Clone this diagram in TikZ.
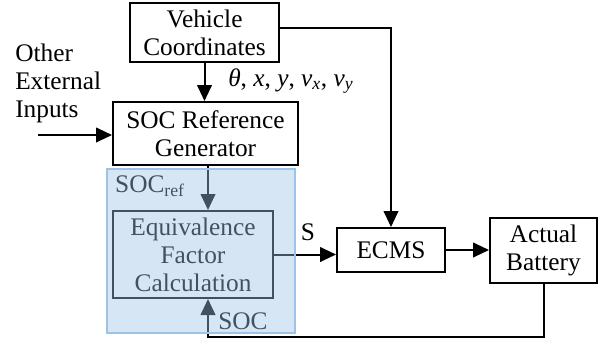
\documentclass[tikz,border=0pt]{standalone}
\usepackage{fontspec}
\setmainfont{Liberation Serif}
\usetikzlibrary{arrows.meta}
\definecolor{regionblue}{RGB}{157,195,230}
\tikzset{
  block/.style={draw=black, line width=1.5pt, fill=white, align=center, inner sep=0pt},
  flow/.style={line width=1.5pt, -{Triangle[length=12pt,width=11pt]}},
  lbl/.style={inner sep=0pt, align=left}
}

\begin{document}
\begin{tikzpicture}[x=0.75pt,y=-0.75pt, font=\fontsize{19}{21}\selectfont]
			%%%%% START %%%%%
			\useasboundingbox (0,0) rectangle (600,339);
			
			% blocks
			\node[block, minimum width=111.75pt, minimum height=44.25pt] (veh) at (204.5,32.5) {Vehicle\\Coordinates};
			\node[block, minimum width=138.75pt, minimum height=47.25pt] (socgen) at (205.5,133.5) {SOC Reference\\Generator};
			\node[block, minimum width=120pt, minimum height=65.25pt] (eqf) at (193,254.5) {Equivalence\\Factor\\Calculation};
			\node[block, minimum width=81pt, minimum height=33pt] (ecms) at (391,250) {ECMS};
			\node[block, minimum width=80.25pt, minimum height=48.75pt] (batt) at (543.5,250.5) {Actual\\Battery};
			
			% texts
			\node[lbl, anchor=north west] (other) at (15,44) {Other\\External\\Inputs};
			\node[lbl, anchor=west] (coords) at (228,81) {\textit{θ}, \textit{x}, \textit{y}, \textit{v}\textsubscript{\textit{x}}, \textit{v}\textsubscript{\textit{y}}};
			\node[lbl] (socref) at (150,186) {SOC\textsubscript{ref}};
			\node[lbl] (slbl) at (308,232) {S};
			\node[lbl] (soclbl) at (243,321) {SOC};
			
			% connectors
			\coordinate (ext) at (38,135);
			\coordinate (fb) at (208,337);
			\coordinate (vout) at (279,28);
			\draw[flow] (veh.south) -- (veh.south |- socgen.north);
			\draw[flow] (ext) -- (ext -| socgen.west);
			\draw[flow] (fb |- socgen.south) -- (fb |- eqf.north);
			\draw[flow] (eqf.east) -- (eqf.east -| ecms.west);
			\draw[flow] (ecms.east) -- (ecms.east -| batt.west);
			\draw[flow] (vout) -| (ecms.north);
			\draw[flow] (batt.south) |- (fb) -- (fb |- eqf.south);
			
			% shaded region on top
			\fill[regionblue, fill opacity=0.42] (107,169) rectangle (295,333);
			\draw[regionblue, line width=1.5pt] (107,169) rectangle (295,333);
			%%%%% END %%%%%
\end{tikzpicture}
\end{document}
